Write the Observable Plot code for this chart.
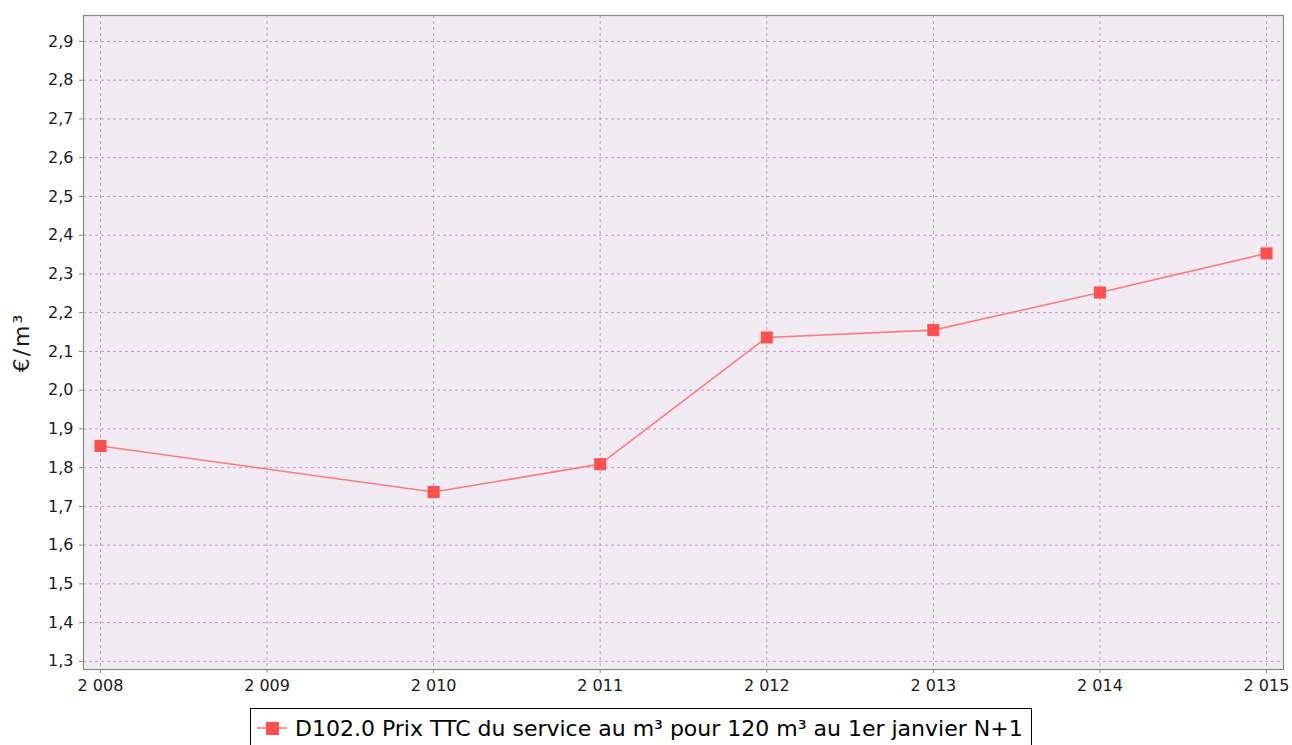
<!DOCTYPE html>
<html>
<head>
<meta charset="utf-8">
<script src="https://cdn.jsdelivr.net/npm/d3@7"></script>
<script src="https://cdn.jsdelivr.net/npm/@observablehq/plot@0.6"></script>
<style>
  html, body { margin: 0; padding: 0; background: #fff; }
  body { width: 1292px; height: 745px; overflow: hidden; font-family: "DejaVu Sans", sans-serif; }
  #chart svg { display: block; }
  #legend {
    position: absolute; left: 250px; top: 708px;
    border: 1px solid #000; background: #fff;
    height: 40px; padding: 0 8px 0 4px;
    display: flex; align-items: center;
    font-family: "DejaVu Sans", sans-serif; font-size: 22px; color: #000;
    white-space: nowrap; box-sizing: border-box;
  }
  #legend svg { margin-right: 6px; flex: none; }
</style>
</head>
<body>
<div id="chart"></div>
<div id="legend"></div>
<script>
const years = [2008, 2010, 2011, 2012, 2013, 2014, 2015];
const prices = [1.856, 1.737, 1.809, 2.136, 2.155, 2.252, 2.353];
const xTicks = [2008, 2009, 2010, 2011, 2012, 2013, 2014, 2015];
const yTicks = [1.3, 1.4, 1.5, 1.6, 1.7, 1.8, 1.9, 2.0, 2.1, 2.2, 2.3, 2.4, 2.5, 2.6, 2.7, 2.8, 2.9];
const seriesName = "D102.0 Prix TTC du service au m³ pour 120 m³ au 1er janvier N+1";
const yLabel = "€/m³";

const data = years.map((y, i) => ({year: y, value: prices[i]}));
const gridColor = "#c59ccb";
const lineColor = "#ff7b7b";
const markColor = "#ff5050";
const fmtX = d => String(d).replace(/(\d)(\d{3})$/, "$1 $2");
const fmtY = d => d.toFixed(1).replace(".", ",");

const chart = Plot.plot({
  width: 1292,
  height: 700,
  marginLeft: 83,
  marginRight: 9,
  marginTop: 15,
  marginBottom: 31,
  style: {fontFamily: "DejaVu Sans, sans-serif", background: "#fff"},
  x: {domain: [2007.898, 2015.102]},
  y: {domain: [1.279, 2.967]},
  marks: [
    Plot.frame({fill: "#f3ebf4", stroke: null}),
    Plot.gridX(xTicks, {stroke: gridColor, strokeOpacity: 1, strokeDasharray: "3,3"}),
    Plot.gridY(yTicks, {stroke: gridColor, strokeOpacity: 1, strokeDasharray: "3,3"}),
    Plot.frame({stroke: "#8a8a8a", strokeWidth: 1.2}),
    Plot.axisX(xTicks, {tickFormat: fmtX, tickSize: 4, tickPadding: 6, stroke: "#8a8a8a", fill: "#1a1a1a", fontSize: 16, label: null}),
    Plot.axisY(yTicks, {tickFormat: fmtY, tickSize: 4, tickPadding: 6, stroke: "#8a8a8a", fill: "#1a1a1a", fontSize: 16,
      label: yLabel, labelAnchor: "center", labelArrow: "none", labelOffset: 70}),
    Plot.line(data, {x: "year", y: "value", stroke: lineColor, strokeWidth: 1.6}),
    Plot.dot(data, {x: "year", y: "value", symbol: "square", r: 6.8, fill: markColor, stroke: null})
  ]
});
document.getElementById("chart").appendChild(chart);
d3.select(chart).selectAll('[aria-label="y-axis label"] text')
  .attr("font-size", 22).style("letter-spacing", "2px");

const legend = document.getElementById("legend");
legend.innerHTML =
  `<svg width="34" height="20"><line x1="2" y1="10" x2="32" y2="10" stroke="${lineColor}" stroke-width="1.6"/><rect x="11" y="4" width="13" height="13" fill="${markColor}"/></svg><span>${seriesName}</span>`;
</script>
</body>
</html>
